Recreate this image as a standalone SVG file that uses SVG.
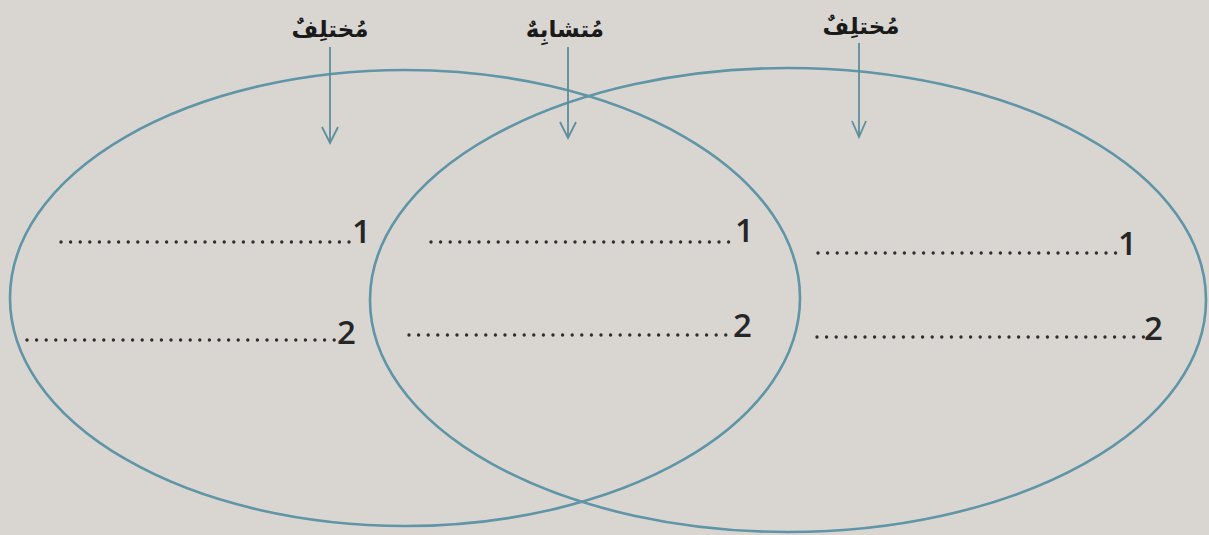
<svg xmlns="http://www.w3.org/2000/svg" width="1209" height="535" viewBox="0 0 1209 535">
<style>
.ell{fill:none;stroke:#5f95a6;stroke-width:2.6}
.arr{stroke:#5d8e9c;stroke-width:1.8;fill:none}
.lbl{font-family:"DejaVu Sans",sans-serif;font-weight:bold;font-size:23px;fill:#1a1a1a}
.dots{stroke:#2e2e2e;stroke-width:3.4;stroke-linecap:round;stroke-dasharray:0 9.6;fill:none}
.num{font-family:"Open Sans","Liberation Sans",sans-serif;font-weight:600;font-size:33px;fill:#262626}
</style>
<rect width="1209" height="535" fill="#d9d6d2"/>
<g id="left-set"><ellipse class="ell" cx="405" cy="298" rx="395" ry="228"/></g>
<g id="right-set"><ellipse class="ell" cx="788" cy="300" rx="418" ry="232"/></g>
<g id="label-left"><text class="lbl" x="330" y="37" text-anchor="middle" direction="rtl">مُختلِفٌ</text></g>
<g id="label-middle"><text class="lbl" x="565" y="37" text-anchor="middle" direction="rtl">مُتشابِهٌ</text></g>
<g id="label-right"><text class="lbl" x="861" y="34" text-anchor="middle" direction="rtl">مُختلِفٌ</text></g>
<g id="connectors">
<line class="arr" x1="330" y1="47" x2="330" y2="143"/>
<path class="arr" d="M322,127 L330,143 L338,127"/>
<line class="arr" x1="568" y1="47" x2="568" y2="138"/>
<path class="arr" d="M560,122 L568,138 L576,122"/>
<line class="arr" x1="859" y1="43" x2="859" y2="137"/>
<path class="arr" d="M852,121 L859,137 L866,121"/>
</g>
<g id="left-items">
<line class="dots" x1="61" y1="242" x2="352" y2="242"/>
<text class="num" x="352" y="243">1</text>
<line class="dots" x1="27" y1="340" x2="336" y2="340"/>
<text class="num" x="337" y="344">2</text>
</g>
<g id="middle-items">
<line class="dots" x1="431" y1="242" x2="735" y2="242"/>
<text class="num" x="735" y="242">1</text>
<line class="dots" x1="409" y1="335" x2="732" y2="335"/>
<text class="num" x="733" y="337">2</text>
</g>
<g id="right-items">
<line class="dots" x1="818" y1="253" x2="1118" y2="253"/>
<text class="num" x="1118" y="255">1</text>
<line class="dots" x1="817" y1="337" x2="1144" y2="337"/>
<text class="num" x="1144" y="340">2</text>
</g>
</svg>
